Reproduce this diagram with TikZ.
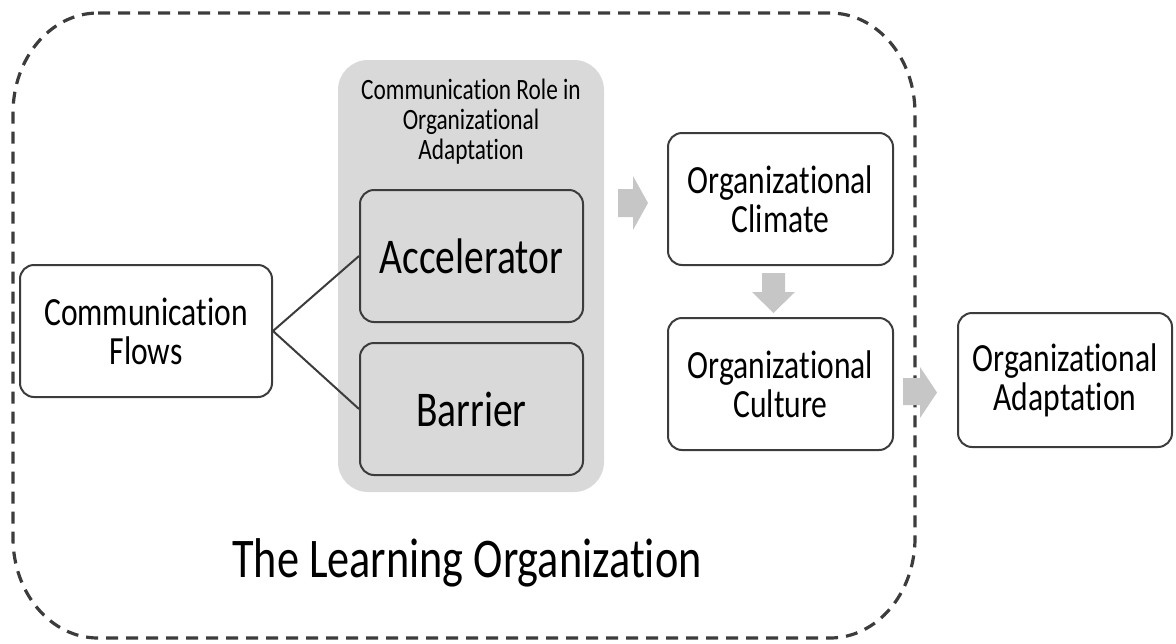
\documentclass[tikz,border=0pt]{standalone}
\usepackage{fontspec}
\setmainfont{Carlito}[FakeStretch=0.79,Ligatures=NoCommon]
\usepackage{tikz}
\usetikzlibrary{calc}
\definecolor{boxline}{HTML}{3C3C3C}
\definecolor{rolegray}{HTML}{D9D9D9}
\definecolor{arrowgray}{HTML}{C6C6C6}
\tikzset{
	box/.style={draw=boxline,line width=2pt,rounded corners=14pt,fill=white,align=center,
		minimum width=225pt,minimum height=132pt,inner sep=0pt,
		font=\fontsize{40}{39}\selectfont},
	rolebox/.style={box,fill=rolegray,minimum width=223pt,font=\fontsize{50}{50}\selectfont},
	blockarrow/.style={fill=arrowgray,draw=none}
}

\begin{document}
\begin{tikzpicture}[x=1pt,y=-1pt]
	\useasboundingbox (0,0) rectangle (1176,643);
	% the learning organization
	\draw[boxline,line width=3.2pt,dash pattern=on 12pt off 8pt] (98,13) -- (830,13)
		arc[start angle=-90,end angle=0,x radius=85,y radius=100] -- (915,538)
		arc[start angle=0,end angle=90,x radius=85,y radius=100] -- (98,638)
		arc[start angle=90,end angle=180,x radius=85,y radius=100] -- (13,113)
		arc[start angle=180,end angle=270,x radius=85,y radius=100] -- cycle;
	\node[anchor=base,font=\fontsize{56}{56}\selectfont] (lo) at (467,577) {The Learning Organization};
	% communication role
	\node[fill=rolegray,rounded corners=30pt,minimum width=266pt,minimum height=432pt] (role) at (471,276) {};
	\node[align=center,font=\fontsize{29.5}{30}\selectfont] (roletitle) at (471,122) {Communication Role in\\Organizational\\Adaptation};
	\node[rolebox] (accel) at (471.5,256) {Accelerator};
	\node[rolebox] (barrier) at (471.5,409) {Barrier};
	\node[box,minimum width=252pt] (flows) at (146,331) {Communication\\Flows};
	\draw[boxline,line width=2pt] (flows.east)--(accel.west) (flows.east)--(barrier.west);
	% outcomes
	\node[box] (climate) at (780.5,199) {Organizational\\Climate};
	\node[box] (culture) at (780.5,384) {Organizational\\Culture};
	\node[box,minimum width=214pt,minimum height=134pt] (adapt) at (1065,380) {Organizational\\Adaptation};
	\fill[blockarrow] (618,189) -- (633,189) -- (633,176) -- (648,203) -- (633,230) -- (633,217) -- (618,217) -- cycle;
	\fill[blockarrow] (762,273) -- (785,273) -- (785,292) -- (795,292) -- (773.5,313) -- (752,292) -- (762,292) -- cycle;
	\fill[blockarrow] (903,378) -- (920,378) -- (920,367) -- (937,392.5) -- (920,418) -- (920,405) -- (903,405) -- cycle;
\end{tikzpicture}
\end{document}
